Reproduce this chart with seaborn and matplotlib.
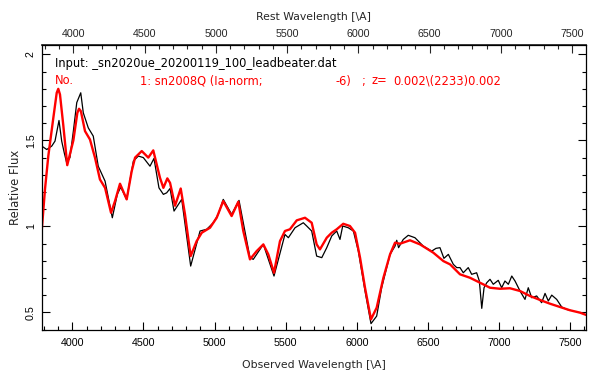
import numpy as np
import pandas as pd
import matplotlib
matplotlib.use("Agg")
import matplotlib.pyplot as plt
import seaborn as sns
from matplotlib.ticker import MultipleLocator

# ---- data ----
template_wave = [3785, 3808, 3831, 3866, 3890, 3901, 3913, 3936, 3964, 4007, 4035, 4047, 4060, 4089, 4124, 4159, 4194, 4230,
                 4272, 4300, 4335, 4382, 4417, 4441, 4488, 4534, 4569, 4616, 4640, 4668,
                 4687, 4722, 4762, 4792, 4832, 4874, 4910, 4968, 5015, 5061, 5120, 5167,
                 5202, 5249, 5296, 5343, 5378, 5418, 5460, 5495, 5530, 5578, 5636, 5683,
                 5718, 5741, 5789, 5824, 5859, 5905, 5952, 5988, 6023, 6058, 6100, 6140,
                 6187, 6234, 6269, 6304, 6374, 6445, 6538, 6609, 6656, 6726, 6796, 6867,
                 6937, 7007, 7077, 7148, 7218, 7288, 7359, 7429, 7499, 7570, 7612]
template_flux = [0.98, 1.22, 1.41, 1.63, 1.777, 1.80, 1.767, 1.59, 1.356, 1.50, 1.66, 1.684, 1.67, 1.554, 1.505, 1.40, 1.273, 1.224,
                 1.079, 1.147, 1.248, 1.157, 1.32, 1.40, 1.438, 1.40, 1.442, 1.283, 1.224, 1.279,
                 1.253, 1.12, 1.22, 1.07, 0.827, 0.914, 0.963, 0.992, 1.05, 1.147, 1.06, 1.143,
                 0.973, 0.808, 0.856, 0.895, 0.837, 0.73, 0.914, 0.973, 0.983, 1.035, 1.05, 1.021,
                 0.895, 0.866, 0.934, 0.963, 0.983, 1.015, 1.002, 0.963, 0.818, 0.643, 0.459, 0.527,
                 0.70, 0.837, 0.905, 0.899, 0.919, 0.895, 0.847, 0.798, 0.779, 0.721, 0.701, 0.672,
                 0.643, 0.637, 0.64, 0.624, 0.595, 0.572, 0.55, 0.531, 0.512, 0.498, 0.485]

obs_wave = [3785, 3820, 3855, 3878, 3906, 3925, 3943, 3960, 3983, 4007, 4031, 4059, 4077,
            4112, 4147, 4182, 4230, 4281, 4316, 4340, 4382, 4429, 4464, 4499, 4546, 4574,
            4609, 4640, 4663, 4687, 4715, 4769, 4832, 4898, 4945, 4991, 5026, 5061, 5120,
            5172, 5249, 5272, 5343, 5418, 5495, 5519, 5566, 5624, 5648, 5683, 5718, 5754,
            5789, 5824, 5859, 5882, 5901, 5940, 5976, 6011, 6058, 6100, 6140, 6175, 6234,
            6269, 6281, 6294, 6327, 6362, 6409, 6468, 6527, 6557, 6585, 6613, 6644, 6679,
            6703, 6726, 6749, 6784, 6808, 6843, 6862, 6879, 6895, 6914, 6937, 6960, 6995,
            7019, 7042, 7066, 7090, 7113, 7148, 7183, 7206, 7230, 7265, 7300, 7324, 7347,
            7371, 7406, 7441, 7476, 7500]
obs_flux = [1.467, 1.447, 1.467, 1.496, 1.616, 1.496, 1.428, 1.37, 1.40, 1.554, 1.72, 1.777, 1.66,
            1.573, 1.525, 1.35, 1.263, 1.05, 1.186, 1.228, 1.157, 1.38, 1.409, 1.40, 1.35, 1.395,
            1.224, 1.186, 1.195, 1.22, 1.089, 1.157, 0.769, 0.973, 0.983, 1.021, 1.07, 1.157, 1.07,
            1.151, 0.818, 0.808, 0.895, 0.711, 0.953, 0.934, 0.992, 1.021, 1.002, 0.973, 0.827, 0.818,
            0.876, 0.944, 0.973, 0.924, 1.002, 0.992, 0.973, 0.856, 0.624, 0.434, 0.478, 0.643, 0.837,
            0.885, 0.919, 0.876, 0.924, 0.948, 0.934, 0.885, 0.856, 0.872, 0.876, 0.814, 0.837, 0.779,
            0.76, 0.76, 0.73, 0.76, 0.721, 0.73, 0.682, 0.523, 0.643, 0.672, 0.692, 0.663, 0.686,
            0.643, 0.682, 0.663, 0.711, 0.682, 0.624, 0.575, 0.643, 0.585, 0.595, 0.556, 0.61, 0.566,
            0.60, 0.575, 0.531, 0.517, 0.512]

redshift = 0.002
x_ticks = [4000, 4500, 5000, 5500, 6000, 6500, 7000, 7500]
y_ticks = [0.5, 1.0, 1.5, 2.0]
y_tick_labels = ["0.5", "1", "1.5", "2"]
line1 = "Input: _sn2020ue_20200119_100_leadbeater.dat"
line2_parts = ["No.", "1: sn2008Q (Ia-norm;", "-6)", ";", "z=", "0.002\\(2233)0.002"]
line2_x = [55, 140, 335, 361, 372, 393]

sns.set_theme(style="ticks")
plt.rcParams['font.family'] = ['Liberation Sans', 'DejaVu Sans']

fig = plt.figure(figsize=(6.06, 3.84), dpi=100)
ax = fig.add_axes([41.5/606, 1-329.5/384, (586-41.5)/606, (329.5-45)/384])

obs_df = pd.DataFrame({"wave": obs_wave, "flux": obs_flux})
tpl_df = pd.DataFrame({"wave": template_wave, "flux": template_flux})
sns.lineplot(data=obs_df, x="wave", y="flux", ax=ax, color="black", lw=0.9,
             sort=False, estimator=None)
sns.lineplot(data=tpl_df, x="wave", y="flux", ax=ax, color="#ff0000", lw=1.7,
             sort=False, estimator=None)

ax.set_xlim(3783, 7612)
ax.set_ylim(0.40, 2.055)
ax.set_xticks(x_ticks)
ax.xaxis.set_minor_locator(MultipleLocator(100))
ax.set_yticks(y_ticks)
ax.set_yticklabels(y_tick_labels, rotation=90, va="center")
ax.yaxis.set_minor_locator(MultipleLocator(0.1))
ax.tick_params(which="both", direction="in", top=False, right=True, labelsize=7.7,
               color="black", labelcolor="black", width=0.8)
ax.tick_params(axis="x", which="major", length=6, pad=6)
ax.tick_params(axis="y", which="major", length=6, pad=4)
ax.tick_params(which="minor", length=3)
for s in ax.spines.values():
    s.set_linewidth(0.9)
    s.set_color("black")

ax.set_xlabel("Observed Wavelength [\\A]", fontsize=7.8, labelpad=9, family="DejaVu Sans")
ax.set_ylabel("Relative Flux", fontsize=8.4, labelpad=3, family="DejaVu Sans")

sec = ax.secondary_xaxis("top", functions=(lambda w: w/(1+redshift), lambda w: w*(1+redshift)))
sec.set_xticks(x_ticks)
sec.xaxis.set_minor_locator(MultipleLocator(100))
sec.tick_params(which="both", direction="in", labelsize=7.7, width=0.8)
sec.tick_params(which="major", length=6, pad=4)
sec.tick_params(which="minor", length=3)
sec.set_xlabel("Rest Wavelength [\\A]", fontsize=7.8, labelpad=7, family="DejaVu Sans")

ax.text(55/606, 1-63/384, line1, transform=fig.transFigure, fontsize=8.3,
        color="black", va="center", family="DejaVu Sans")
for txt, xp in zip(line2_parts, line2_x):
    ax.text(xp/606, 1-81/384, txt, transform=fig.transFigure, fontsize=8.3,
            color="#ff0000", va="center", family="DejaVu Sans")

fig.savefig("out.png", dpi=100)
